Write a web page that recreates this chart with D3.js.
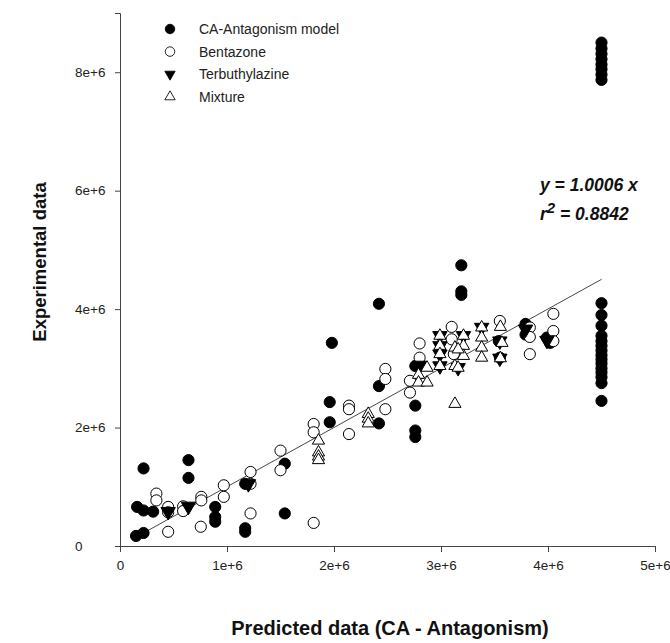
<!DOCTYPE html>
<html>
<head>
<meta charset="utf-8">
<script src="https://cdn.jsdelivr.net/npm/d3@7"></script>
<style>
body{margin:0;background:#fff;}
text{font-family:"Liberation Sans",Arial,sans-serif;}
</style>
</head>
<body>
<svg id="chart" width="670" height="643"></svg>
<script>
// values in units of 1e6 : [predicted, experimental]
var caModel=[
    [0.15,0.17],[0.22,0.22],[0.16,0.66],[0.22,0.60],[0.31,0.58],[0.22,1.31],
    [0.64,1.45],[0.64,1.15],[0.89,0.66],[0.89,0.49],[0.89,0.41],
    [1.17,0.30],[1.17,0.24],[1.17,1.05],[1.54,1.39],[1.54,0.55],
    [1.96,2.43],[1.96,2.09],[1.98,3.43],[2.42,4.09],[2.42,2.70],[2.42,2.07],
    [2.76,3.04],[2.76,2.37],[2.76,1.95],[2.76,1.84],
    [3.19,4.74],[3.19,4.30],[3.19,4.24],[3.54,3.46],[3.55,3.18],
    [3.79,3.75],[3.79,3.57],[3.99,3.52],[4.02,3.43],
    [4.5,7.87],[4.5,7.96],[4.5,8.05],[4.5,8.13],[4.5,8.22],[4.5,8.31],[4.5,8.40],[4.5,8.50],
    [4.5,2.45],[4.5,2.75],[4.5,2.85],[4.5,2.93],[4.5,3.00],[4.5,3.08],[4.5,3.15],[4.5,3.22],
    [4.5,3.30],[4.5,3.38],[4.5,3.46],[4.5,3.55],[4.5,3.72],[4.5,3.90],[4.5,4.10]
];
var bentazone=[
    [0.34,0.885],[0.34,0.77],[0.45,0.66],[0.45,0.57],[0.45,0.24],[0.59,0.67],[0.59,0.59],
    [0.76,0.83],[0.76,0.77],[0.755,0.325],[0.97,1.025],[0.97,0.83],
    [1.22,1.25],[1.22,1.05],[1.22,0.55],[1.50,1.61],[1.50,1.28],
    [1.81,2.06],[1.81,1.92],[1.81,0.39],[2.14,2.37],[2.14,2.31],[2.14,1.89],
    [2.48,2.99],[2.48,2.82],[2.48,2.31],[2.71,2.79],[2.71,2.59],[2.80,3.42],[2.80,3.18],
    [3.10,3.70],[3.10,3.49],[3.12,3.24],[3.55,3.80],[3.83,3.69],[3.83,3.53],[3.83,3.24],
    [4.05,3.92],[4.05,3.63],[4.05,3.46]
];
var terbuthylazine=[
    [0.45,0.58],[0.64,0.67],[1.20,1.05],[2.80,3.05],[2.99,3.55],[2.99,3.38],[2.99,3.24],
    [2.99,3.04],[3.16,3.01],[3.21,3.55],[3.38,3.69],[3.55,3.17],[3.55,3.46],[3.79,3.66],[3.99,3.47]
];
var mixture=[
    [1.855,1.78],[1.855,1.58],[1.855,1.51],[1.855,1.45],[2.32,2.23],[2.32,2.15],[2.32,2.07],
    [2.79,2.89],[2.79,2.76],[2.87,2.76],[2.87,3.01],[2.99,3.55],[2.99,3.38],[2.99,3.24],[2.99,3.04],
    [3.13,3.35],[3.13,3.04],[3.13,2.40],[3.21,3.55],[3.21,3.38],[3.21,3.21],[3.16,3.01],[3.16,3.32],
    [3.38,3.69],[3.38,3.52],[3.38,3.35],[3.38,3.18],[3.555,3.70],[3.57,3.43],[3.555,3.17]
];
var xTicks=[0,1,2,3,4,5];
var yTicks=[0,2,4,6,8];
var legendNames=["CA-Antagonism model","Bentazone","Terbuthylazine","Mixture"];
var fitSlope=1.0006;
var fitRange=[0.2,4.5];

var svg=d3.select("#chart");
var x=d3.scaleLinear().domain([0,5]).range([120,655]);
var y=d3.scaleLinear().domain([0,9]).range([546,13]);

function fmt(d){
    return d===0?"0":d+"e+6";
}

var xAxis=svg.append("g").attr("transform","translate(0,546)")
    .call(d3.axisBottom(x).tickValues(xTicks).tickFormat(fmt).tickSizeOuter(0).tickSize(6).tickPadding(8));
var yAxis=svg.append("g").attr("transform","translate(120,0)")
    .call(d3.axisLeft(y).tickValues(yTicks).tickFormat(fmt).tickSizeOuter(0).tickSize(5));
// y labels are left aligned in the original
yAxis.selectAll(".tick text").attr("text-anchor","start").attr("x",-45);
[xAxis,yAxis].forEach(function(a){
    a.select(".domain").attr("stroke","#444");
    a.selectAll(".tick line").attr("stroke","#444");
    a.selectAll(".tick text").attr("font-size",13.5).attr("fill","#222")
        .style("font-family","'Liberation Sans',Arial,sans-serif");
});

// regression line
svg.append("line")
    .attr("x1",x(fitRange[0])).attr("y1",y(fitRange[0]*fitSlope))
    .attr("x2",x(fitRange[1])).attr("y2",y(fitRange[1]*fitSlope))
    .attr("stroke","#333").attr("stroke-width",0.9);

var circ=d3.symbol().type(d3.symbolCircle).size(98);
var tri=d3.symbol().type(d3.symbolTriangle).size(64);
var triDown=d3.symbol().type(d3.symbolTriangle).size(90);

var styles=[
    {data:caModel,path:circ(),fill:"#000",stroke:"#000",rot:0},
    {data:bentazone,path:circ(),fill:"#fff",stroke:"#000",rot:0},
    {data:terbuthylazine,path:triDown(),fill:"#000",stroke:"#000",rot:180},
    {data:mixture,path:tri(),fill:"#fff",stroke:"#000",rot:0}
];

styles.forEach(function(s){
    svg.append("g").selectAll("path").data(s.data).enter().append("path")
        .attr("d",s.path)
        .attr("transform",function(d){
            return "translate("+x(d[0])+","+y(d[1])+") rotate("+s.rot+")";
        })
        .attr("fill",s.fill).attr("stroke",s.stroke).attr("stroke-width",1);
});

// legend
var leg=svg.append("g");
styles.forEach(function(s,i){
    var ly=29+i*22.6;
    leg.append("path").attr("d",i==2?tri():s.path)
        .attr("transform","translate(170,"+ly+") rotate("+s.rot+") scale(0.85)")
        .attr("fill",s.fill).attr("stroke",s.stroke).attr("stroke-width",1);
    leg.append("text").attr("x",199).attr("y",ly+5)
        .attr("font-size",14).attr("fill","#222").text(legendNames[i]);
});

// equation
svg.append("text").attr("x",540).attr("y",191)
    .attr("font-size",17.5).attr("font-weight","bold").attr("font-style","italic").attr("fill","#111")
    .text("y = 1.0006 x");
var r2=svg.append("text").attr("x",540).attr("y",220)
    .attr("font-size",17.5).attr("font-weight","bold").attr("font-style","italic").attr("fill","#111");
r2.append("tspan").text("r");
r2.append("tspan").attr("dy",-7).attr("font-size",15).text("2");
r2.append("tspan").attr("dy",7).text(" = 0.8842");

// axis titles
svg.append("text").attr("x",390).attr("y",635).attr("text-anchor","middle")
    .attr("font-size",20).attr("font-weight","bold").attr("fill","#111")
    .text("Predicted data (CA - Antagonism)");
svg.append("text").attr("transform","translate(46,262) rotate(-90)").attr("text-anchor","middle")
    .attr("font-size",18.5).attr("font-weight","bold").attr("fill","#111")
    .text("Experimental data");
</script>
</body>
</html>
